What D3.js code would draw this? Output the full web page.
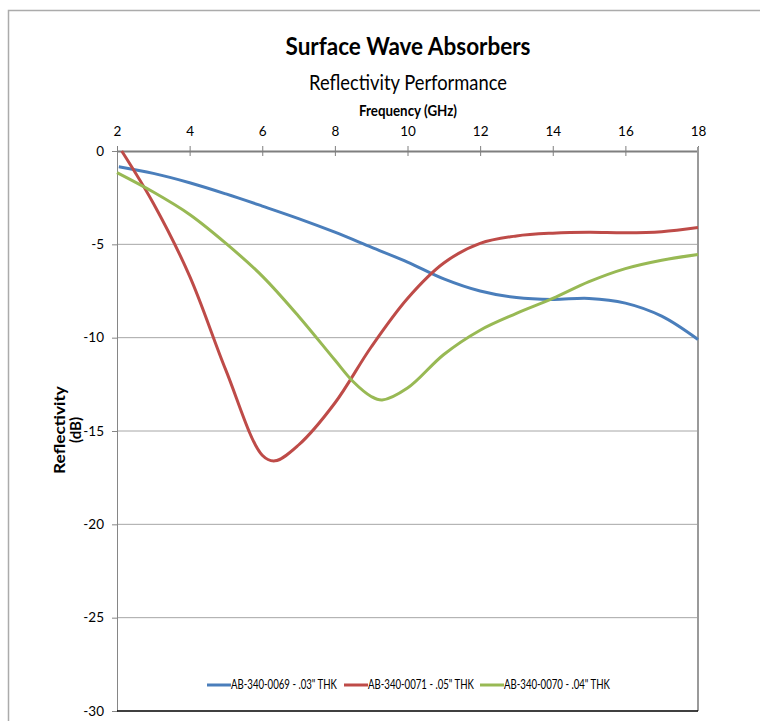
<!DOCTYPE html>
<html>
<head>
<meta charset="utf-8">
<script src="https://cdn.jsdelivr.net/npm/d3@7"></script>
<style>
  body { margin: 0; background: #fff; }
  text { font-family: Lato, "Open Sans", sans-serif; fill: #000; }
</style>
</head>
<body>
<svg id="chart" width="760" height="721"></svg>
<script>
// frequency (GHz) / reflectivity (dB)
var freq069 = [2.05, 3, 4, 5, 6, 7, 8, 9, 10, 11, 12, 13, 14, 15, 16, 17, 18]
var refl069 = [-0.84, -1.2, -1.7, -2.3, -2.95, -3.62, -4.35, -5.15, -5.95, -6.85, -7.5, -7.85, -7.95, -7.9, -8.15, -8.85, -10.1]

var freq071 = [2.13, 3, 4, 5, 6, 6.35, 7, 8, 9, 10, 11, 12, 13, 14, 15, 16, 17, 18]
var refl071 = [0, -2.8, -6.7, -11.75, -16.3, -16.6, -15.75, -13.5, -10.5, -7.9, -6.0, -4.95, -4.55, -4.4, -4.35, -4.38, -4.32, -4.1]

var freq070 = [2, 3, 4, 5, 6, 7, 8, 8.5, 9, 9.3, 10, 11, 12, 13, 14, 15, 16, 17, 18]
var refl070 = [-1.16, -2.2, -3.4, -4.95, -6.7, -8.85, -11.2, -12.35, -13.15, -13.34, -12.7, -10.9, -9.6, -8.7, -7.9, -7.0, -6.3, -5.85, -5.54]

var seriesNames = ['AB-340-0069 - .03" THK', 'AB-340-0071 - .05" THK', 'AB-340-0070 - .04" THK']
var seriesColors = ['#4a7ebb', '#be4b48', '#98b954']
var xTicks = [2, 4, 6, 8, 10, 12, 14, 16, 18]
var yTicks = [0, -5, -10, -15, -20, -25, -30]

var svg = d3.select('#chart')
var m = {left: 117, right: 698, top: 151, bottom: 711}

var x = d3.scaleLinear().domain([2, 18]).range([m.left, m.right])
var y = d3.scaleLinear().domain([0, -30]).range([m.top, m.bottom])

// outer chart border (only top/left visible in the crop)
svg.append('path')
  .attr('d', 'M8.5,721 V10.5 H760')
  .attr('fill', 'none')
  .attr('stroke', '#ababab')
  .attr('stroke-width', 1.5)

// titles
svg.append('text').attr('x', 408).attr('y', 55).attr('text-anchor', 'middle')
  .style('font-size', '25px').style('font-weight', 'bold')
  .attr('textLength', 245).attr('lengthAdjust', 'spacingAndGlyphs')
  .text('Surface Wave Absorbers')
svg.append('text').attr('x', 408).attr('y', 90).attr('text-anchor', 'middle')
  .style('font-size', '21px')
  .attr('textLength', 198).attr('lengthAdjust', 'spacingAndGlyphs')
  .text('Reflectivity Performance')
svg.append('text').attr('x', 408).attr('y', 116).attr('text-anchor', 'middle')
  .style('font-size', '15px').style('font-weight', 'bold')
  .attr('textLength', 98).attr('lengthAdjust', 'spacingAndGlyphs')
  .text('Frequency (GHz)')

// horizontal gridlines
svg.append('g')
  .selectAll('line')
  .data(yTicks.filter(d => d !== 0 && d !== -30))
  .join('line')
  .attr('x1', m.left).attr('x2', m.right)
  .attr('y1', d => y(d)).attr('y2', d => y(d))
  .attr('stroke', '#a6a6a6')
  .attr('stroke-width', 1)

// top x axis (ticks cross the line)
var xAxis = svg.append('g')
  .attr('transform', `translate(0,${m.top})`)
  .call(d3.axisTop(x).tickValues(xTicks).tickSize(5).tickSizeOuter(0).tickPadding(10))
xAxis.select('.domain').attr('stroke', '#7f7f7f').attr('stroke-width', 2)
xAxis.selectAll('.tick line').attr('y2', 5).attr('y1', -5).attr('stroke', '#7f7f7f')
xAxis.selectAll('.tick text').style('font-size', '13.5px').style('font-family', 'Lato, sans-serif')

// left y axis, plain hyphen for negatives as in the reference
var yAxis = svg.append('g')
  .attr('transform', `translate(${m.left},0)`)
  .call(d3.axisLeft(y).tickValues(yTicks).tickFormat(d => String(d)).tickSize(5).tickSizeOuter(0).tickPadding(8))
yAxis.select('.domain').attr('stroke', '#868686')
yAxis.selectAll('.tick line').attr('stroke', '#868686')
yAxis.selectAll('.tick text').style('font-size', '13.5px').style('font-family', 'Lato, sans-serif')

// right plot border and bottom line
svg.append('line').attr('x1', m.right).attr('x2', m.right).attr('y1', m.top - 4).attr('y2', m.bottom)
  .attr('stroke', '#9a9a9a').attr('stroke-width', 2)
svg.append('line').attr('x1', m.left).attr('x2', m.right).attr('y1', m.bottom).attr('y2', m.bottom)
  .attr('stroke', '#000').attr('stroke-width', 1.5)

// y axis title, two lines
var yt = svg.append('text')
  .attr('transform', 'translate(65,430) rotate(-90)')
  .attr('text-anchor', 'middle')
  .style('font-size', '15px').style('font-weight', 'bold')
yt.append('tspan').attr('x', 0).attr('dy', 0)
  .attr('textLength', 88).attr('lengthAdjust', 'spacingAndGlyphs')
  .text('Reflectivity')
yt.append('tspan').attr('x', 0).attr('dy', 16).text('(dB)')

// series lines
var line = d3.line()
  .x(d => x(d[0]))
  .y(d => y(d[1]))
  .curve(d3.curveCatmullRom.alpha(0.5))

var series = [
  d3.zip(freq069, refl069),
  d3.zip(freq071, refl071),
  d3.zip(freq070, refl070)
]

svg.append('g')
  .selectAll('path')
  .data(series)
  .join('path')
  .attr('d', line)
  .attr('fill', 'none')
  .attr('stroke', (d, i) => seriesColors[i])
  .attr('stroke-width', 3)

// legend
var legX = [207, 344, 480]
var leg = svg.append('g')
  .selectAll('g')
  .data(seriesNames)
  .join('g')
  .attr('transform', (d, i) => `translate(${legX[i]},685)`)
leg.append('line')
  .attr('x1', 0).attr('x2', 24)
  .attr('stroke', (d, i) => seriesColors[i])
  .attr('stroke-width', 3)
leg.append('text')
  .attr('x', 24).attr('dy', '0.35em')
  .style('font-size', '12.5px')
  .attr('textLength', 106).attr('lengthAdjust', 'spacingAndGlyphs')
  .text(d => d)
</script>
</body>
</html>
